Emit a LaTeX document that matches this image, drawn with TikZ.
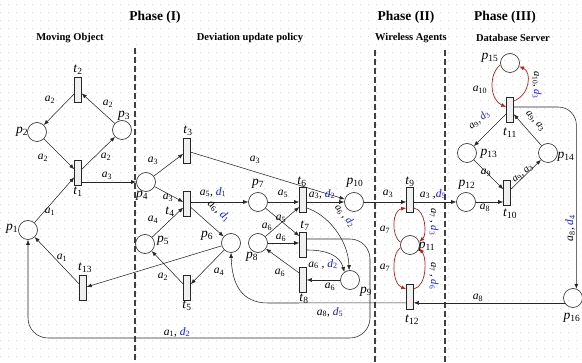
\documentclass[tikz,border=0pt]{standalone}
\usepackage{fontspec}
\setmainfont{Liberation Serif}
\usetikzlibrary{arrows.meta,calc}
\definecolor{dblue}{RGB}{20,20,230}
\definecolor{arcred}{RGB}{175,35,35}
\newcommand{\ix}[2]{\textit{#1}\textsubscript{#2}}
\newcommand{\dd}[1]{\textcolor{dblue}{\textit{d}\textsubscript{#1}}}
\begin{document}
\begin{tikzpicture}[x=1pt,y=-1pt,
  place/.style={circle,draw=black!85,line width=0.6pt,minimum size=19pt,inner sep=0pt},
  trans/.style={rectangle,draw=black!85,fill=gray!12,line width=0.6pt,minimum width=7pt,minimum height=25pt,inner sep=0pt},
  arr/.style={draw=black!85,line width=0.55pt,-{Latex[length=5pt,width=4pt]}},
  redarr/.style={draw=arcred,line width=0.7pt,-{Latex[length=5pt,width=4pt]}},
  lbl/.style={font=\fontsize{11.5}{11.5}\selectfont,inner sep=0.5pt},
  slbl/.style={font=\fontsize{10.5}{10.5}\selectfont,inner sep=0.5pt},
  nm/.style={font=\fontsize{13.5}{13.5}\selectfont,inner sep=0.5pt},
  phase/.style={font=\bfseries\fontsize{13.5}{13.5}\selectfont,inner sep=0pt},
  part/.style={font=\bfseries\fontsize{10.5}{10.5}\selectfont,inner sep=0pt},
  divider/.style={draw=black!75,line width=1.5pt,dash pattern=on 6pt off 3pt},
  gridline/.style={draw=gray!30,line width=0.9pt,dash pattern=on 0.9pt off 7.1pt}
]
\useasboundingbox (0,0) rectangle (582,363);
\fill[white] (0,0) rectangle (582,363);
\foreach \yy in {4,12,...,360} \draw[gridline] (0,\yy) -- (582,\yy);

% titles
\node[phase] (ph1) at (155,17) {Phase (I)};
\node[phase] (ph2) at (406,17) {Phase (II)};
\node[phase] (ph3) at (505,17) {Phase (III)};
\node[part] (s1) at (70,38) {Moving Object};
\node[part] (s2) at (250,38) {Deviation update policy};
\node[part] (s3) at (411,38) {Wireless Agents};
\node[part] (s4) at (513,38) {Database Server};

% dividers
\draw[divider] (135,48) -- (135,363);
\draw[divider] (375,50) -- (375,363);
\draw[divider] (445,50) -- (445,363);

% places
\node[place] (p1) at (28,230) {};
\node[place] (p2) at (37,132) {};
\node[place] (p3) at (122,130) {};
\node[place] (p4) at (146,182) {};
\node[place] (p5) at (145,244) {};
\node[place] (p6) at (231,243) {};
\node[place] (p7) at (258,202) {};
\node[place] (p8) at (258,243) {};
\node[place] (p9) at (350,280) {};
\node[place] (p10) at (354,202) {};
\node[place] (p11) at (410,245) {};
\node[place] (p12) at (466,202) {};
\node[place] (p13) at (467,153) {};
\node[place] (p14) at (548,153) {};
\node[place] (p15) at (510,63) {};
\node[place] (p16) at (573,298) {};

% transitions
\node[trans] (t1) at (78,173) {};
\node[trans] (t2) at (78,90) {};
\node[trans] (t3) at (187,151) {};
\node[trans] (t4) at (187,204) {};
\node[trans] (t5) at (187,288) {};
\node[trans] (t6) at (303,200) {};
\node[trans] (t7) at (303,245) {};
\node[trans] (t8) at (303,280) {};
\node[trans] (t9) at (410,200) {};
\node[trans] (t10) at (507,193) {};
\node[trans] (t11) at (510,110) {};
\node[trans] (t12) at (410,297) {};
\node[trans] (t13) at (83,288) {};

% node names
\node[nm] (np1) at (12,229) {\ix{p}{1}};
\node[nm] (np2) at (22,132) {\ix{p}{2}};
\node[nm] (np3) at (124,116) {\ix{p}{3}};
\node[nm] (np4) at (142,196) {\ix{p}{4}};
\node[nm] (np5) at (163,241) {\ix{p}{5}};
\node[nm] (np6) at (207,236) {\ix{p}{6}};
\node[nm] (np7) at (258,184) {\ix{p}{7}};
\node[nm] (np8) at (252,257) {\ix{p}{8}};
\node[nm] (np9) at (366,292) {\ix{p}{9}};
\node[nm] (np10) at (355,183) {\ix{p}{10}};
\node[nm] (np11) at (427,247) {\ix{p}{11}};
\node[nm] (np12) at (467,185) {\ix{p}{12}};
\node[nm] (np13) at (489,154) {\ix{p}{13}};
\node[nm] (np14) at (566,157) {\ix{p}{14}};
\node[nm] (np15) at (490,58) {\ix{p}{15}};
\node[nm] (np16) at (572,318) {\ix{p}{16}};
\node[nm] (nt1) at (78,192) {\ix{t}{1}};
\node[nm] (nt2) at (78,70) {\ix{t}{2}};
\node[nm] (nt3) at (188,131) {\ix{t}{3}};
\node[nm] (nt4) at (170,212) {\ix{t}{4}};
\node[nm] (nt5) at (187,306) {\ix{t}{5}};
\node[nm] (nt6) at (302,182) {\ix{t}{6}};
\node[nm] (nt7) at (305,226) {\ix{t}{7}};
\node[nm] (nt8) at (304,299) {\ix{t}{8}};
\node[nm] (nt9) at (410,182) {\ix{t}{9}};
\node[nm] (nt10) at (510,214) {\ix{t}{10}};
\node[nm] (nt11) at (510,133) {\ix{t}{11}};
\node[nm] (nt12) at (412,320) {\ix{t}{12}};
\node[nm] (nt13) at (85,268) {\ix{t}{13}};

% Moving object
\draw[arr] (t2) -- (p2);
\draw[arr] (p3) -- (t2);
\draw[arr] (p2) -- (t1);
\draw[arr] (t1) -- (p3);
\draw[arr] (p1) -- (t1);
\draw[arr] (t13) -- (p1);
\draw[arr] ($(t1.east)+(0,9)$) -- (p4.west);
\node[lbl] (la1) at (50,100) {\ix{a}{2}};
\node[lbl] (la2) at (108,104) {\ix{a}{2}};
\node[lbl] (la3) at (43,158) {\ix{a}{2}};
\node[lbl] (la4) at (106,157) {\ix{a}{2}};
\node[lbl] (la5) at (50,212) {\ix{a}{1}};
\node[lbl] (la6) at (62,258) {\ix{a}{1}};
\node[lbl] (la7) at (107,176) {\ix{a}{3}};

% Phase I
\draw[arr] (p4) -- (t3);
\draw[arr] (t3) -- (p10);
\draw[arr] (p4) -- (t4);
\draw[arr] (p5) -- (t4);
\draw[arr] (p7 -| t4.east) -- (p7.west);
\draw[arr] (t4) -- (p6);
\draw[arr] (p6) -- (t5);
\draw[arr] (t5) -- (p5);
\draw[arr] (p6) -- (t13);
\draw[arr] (p7.east) -- (p7.east -| t6.west);
\draw[arr] (p7) -- ($(t7.west)+(0,-9)$);
\draw[arr] (p8) -- ($(t6.west)+(0,7)$);
\draw[arr] (p8.east) -- (p8.east -| t7.west);
\draw[arr] ($(t8.west)+(0,-7)$) -- (p8);
\draw[arr] (p9.west) -- (p9.west -| t8.east);
\draw[arr] (p10 -| t6.east) -- (p10.west);
\draw[arr] ($(t6.east)+(0,8)$) .. controls (326,214) and (348,238) .. (p9.95);
\draw[arr] ($(t7.east)+(0,5)$) .. controls (328,250) and (340,256) .. (p9.125);
\draw[arr,rounded corners=20pt] ($(t7.east)+(0,-6)$) -| (370,338) -| (p1.south);
\coordinate (ya) at (p16.210);
\draw[arr] (ya -| t12.west) -- (268,303) .. controls (242,303) and (232,285) .. (p6.south);
\node[lbl] (lb1) at (153,161) {\ix{a}{3}};
\node[lbl] (lb2) at (255,160) {\ix{a}{3}};
\node[lbl] (lb3) at (168,198) {\ix{a}{3}};
\node[lbl] (lb4) at (153,220) {\ix{a}{4}};
\node[lbl] (lb5) at (213,192) {\ix{a}{5}, \dd{1}};
\node[lbl,rotate=-42] (lb6) at (219,211) {\ix{a}{6}, \dd{1}};
\node[lbl] (lb7) at (219,272) {\ix{a}{4}};
\node[lbl] (lb8) at (163,277) {\ix{a}{2}};
\node[lbl] (lb9) at (283,194) {\ix{a}{5}};
\node[lbl] (lb10) at (281,219) {\ix{a}{5}};
\node[lbl] (lb11) at (267,227) {\ix{a}{6}};
\node[lbl] (lb12) at (281,238) {\ix{a}{6}};
\node[lbl] (lb13) at (280,273) {\ix{a}{6}};
\node[lbl] (lb14) at (330,287) {\ix{a}{6}};
\node[lbl] (lb15) at (322,194) {\ix{a}{3}, \dd{2}};
\node[slbl,rotate=-52] (lb16) at (345,216) {\ix{a}{6} , \dd{2}};
\node[lbl] (lb17) at (323,264) {\ix{a}{6} , \dd{2}};
\node[lbl] (lb18) at (330,312) {\ix{a}{8}, \dd{5}};
\node[lbl] (lb19) at (177,332) {\ix{a}{1}, \dd{2}};

% Phase II
\draw[arr] (p10.east) -- (p10 -| t9.west);
\draw[arr] (p12 -| t9.east) -- (p12.west);
\draw[redarr] (p11.165) .. controls (391,236) and (392,210) .. ($(t9.west)+(0,8)$);
\draw[redarr] ($(t9.east)+(0,8)$) .. controls (426,210) and (427,235) .. (p11.20);
\draw[redarr] (p11.195) .. controls (391,254) and (392,284) .. ($(t12.west)+(0,-8)$);
\draw[redarr] ($(t12.east)+(0,-8)$) .. controls (427,286) and (427,258) .. (p11.340);
\draw[arr] (p16.210) -- (ya -| t12.east);
\node[lbl] (lc1) at (388,194) {\ix{a}{3}};
\node[lbl] (lc2) at (433,194) {\ix{a}{3} ,\dd{5}};
\node[lbl] (lc3) at (385,230) {\ix{a}{7}};
\node[lbl] (lc4) at (385,268) {\ix{a}{7}};
\node[slbl,rotate=-90] (lc5) at (434,222) {\ix{a}{7} , \dd{3}};
\node[slbl,rotate=-90] (lc6) at (434,276) {\ix{a}{7} , \dd{6}};
\node[lbl] (lc7) at (478,298) {\ix{a}{8}};

% Phase III
\draw[redarr] (p15.190) .. controls (488,75) and (490,100) .. ($(t11.west)+(0,-3)$);
\draw[redarr] ($(t11.east)+(0,-9)$) .. controls (530,95) and (532,72) .. (p15.-20);
\draw[arr] (t11) -- (p13);
\draw[arr] (p14) -- (t11);
\draw[arr] (p13) -- (t10);
\draw[arr] (t10) -- (p14);
\draw[arr] (p12.east) -- (p12.east -| t10.west);
\draw[arr,rounded corners=18pt] ($(t11.east)+(0,-3)$) -| (p16.70);
\node[lbl] (ld1) at (480,90) {\ix{a}{10}};
\node[slbl,rotate=-90] (ld2) at (537,85) {\ix{a}{10}, \dd{3}};
\node[slbl,rotate=40] (ld3) at (479,120) {\ix{a}{9}, \dd{3}};
\node[slbl,rotate=-48] (ld4) at (535,121) {\ix{a}{9}, \ix{a}{3}};
\node[lbl] (ld5) at (486,173) {\ix{a}{9}};
\node[slbl,rotate=40] (ld6) at (523,174) {\ix{a}{9}, \ix{a}{3}};
\node[lbl] (ld7) at (485,208) {\ix{a}{8}};
\node[lbl,rotate=90] (ld8) at (570,228) {\ix{a}{8}, \dd{4}};
\end{tikzpicture}
\end{document}
